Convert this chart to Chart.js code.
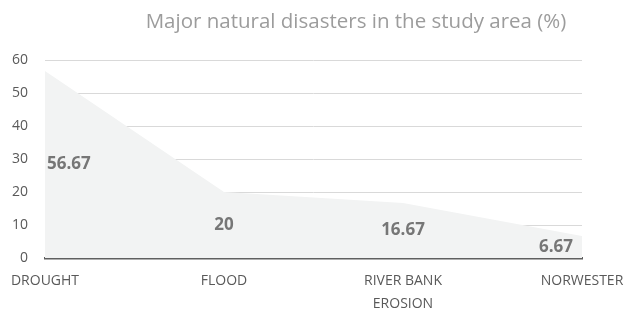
<!DOCTYPE html>
<html>
<head>
<meta charset="utf-8">
<script src="https://cdn.jsdelivr.net/npm/chart.js@4"></script>
<style>
  html, body { margin: 0; padding: 0; background: #fff; }
  #wrap { width: 627px; height: 312px; }
</style>
</head>
<body>
<div id="wrap"><canvas id="chartDisasters"></canvas></div>
<script>
const categories = ["DROUGHT", "FLOOD", ["RIVER BANK", "EROSION"], "NORWESTER"];
const percentages = [56.67, 20, 16.67, 6.67];
const yTicks = { min: 0, max: 60, step: 10 };
const titleText = "Major natural disasters in the study area (%)";

// Excel-style labels sitting half way up the area
const areaLabels = {
  id: "areaLabels",
  afterDatasetsDraw(chart) {
    const ctx = chart.ctx;
    const x = chart.scales.x;
    const y = chart.scales.y;
    ctx.save();
    ctx.font = "bold 17px 'Open Sans'";
    ctx.fillStyle = "#767676";
    ctx.textBaseline = "middle";
    percentages.forEach((v, i) => {
      let px = x.getPixelForValue(i);
      const py = y.getPixelForValue(v / 2);
      if (i === 0) {
        ctx.textAlign = "left";
        px += 2;
      } else if (i === percentages.length - 1) {
        ctx.textAlign = "right";
        px -= 9;
      } else {
        ctx.textAlign = "center";
      }
      ctx.fillText(String(v), px, py);
    });
    ctx.restore();
  },
  afterDraw(chart) {
    const ctx = chart.ctx;
    ctx.save();
    ctx.font = "20.5px 'Open Sans'";
    ctx.fillStyle = "#9c9c9c";
    ctx.textAlign = "center";
    ctx.textBaseline = "middle";
    ctx.fillText(titleText, 356, 22);
    ctx.restore();
  },
};

new Chart(document.getElementById("chartDisasters").getContext("2d"), {
  type: "line",
  data: {
    labels: categories,
    datasets: [
      {
        label: "Disasters",
        data: percentages,
        fill: "origin",
        backgroundColor: "#f2f3f3",
        borderWidth: 0,
        pointRadius: 0,
        tension: 0,
      },
    ],
  },
  options: {
    responsive: true,
    maintainAspectRatio: false,
    animation: false,
    layout: { padding: { top: 60, right: 45, left: 0, bottom: 0 } },
    plugins: {
      legend: { display: false },
      tooltip: { enabled: false },
      title: { display: false },
    },
    scales: {
      x: {
        offset: false,
        grid: { display: false, drawTicks: false },
        border: { display: true, color: "#5f5f5f", width: 2.5 },
        ticks: {
          color: "#595959",
          padding: 11,
          maxRotation: 0,
          autoSkip: false,
          font: { family: "'Open Sans'", size: 14, lineHeight: 1.65 },
        },
        afterFit(scale) {
          scale.height = 54;
          scale.paddingLeft = 0;
          scale.paddingRight = 0;
        },
      },
      y: {
        min: yTicks.min,
        max: yTicks.max,
        grid: { color: "#d9d9d9", drawTicks: false, lineWidth: 1 },
        border: { display: false },
        ticks: {
          stepSize: yTicks.step,
          color: "#595959",
          padding: 17,
          font: { family: "'Open Sans'", size: 14 },
        },
        afterFit(scale) {
          scale.width = 45;
        },
      },
    },
  },
  plugins: [areaLabels],
});
</script>
</body>
</html>
